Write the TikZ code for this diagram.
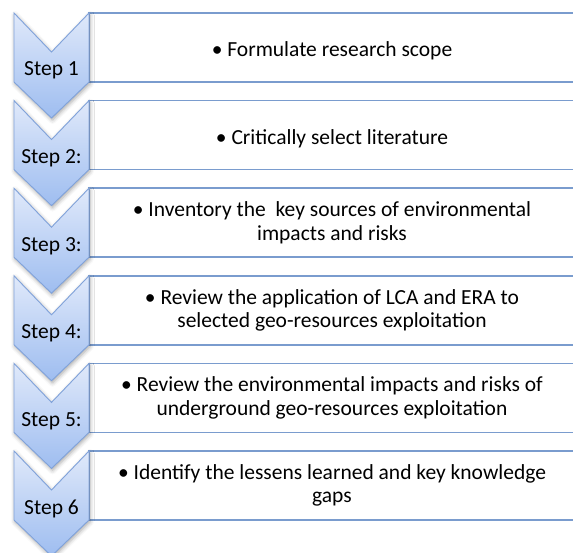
\documentclass[tikz,border=0pt]{standalone}
\usepackage{fontspec}
\setmainfont{Carlito}
\usetikzlibrary{positioning, calc, shadows.blur}

\definecolor{chevtop}{RGB}{224,233,250}
\definecolor{chevbot}{RGB}{158,189,240}
\definecolor{chevline}{RGB}{128,162,218}
\definecolor{boxline}{RGB}{122,156,206}

\tikzset{
  taskbox/.style={draw=boxline, line width=1.6pt, fill=white, minimum width=486pt, minimum height=69pt,
    outer sep=0pt, inner sep=0pt, align=center, font=\fontsize{21.5}{23.5}\selectfont,
    execute at begin node={\rule{0pt}{22pt}}},
  chevron/.style={draw=chevline, line width=0.9pt, top color=chevtop, bottom color=chevbot, line join=miter,
    blur shadow={shadow xshift=1pt, shadow yshift=-2pt, shadow blur radius=4pt, shadow opacity=35}},
  steplabel/.style={anchor=base, font=\fontsize{21.5}{23.5}\selectfont}
}

\begin{document}
\begin{tikzpicture}[x=1pt, y=1pt, node distance=18.6pt]
  \useasboundingbox (0,0) rectangle (573,-553);

  % task boxes
  \node[taskbox] (b1) at (332,-47.5) {• Formulate research scope};
  \node[taskbox, below=of b1] (b2) {• Critically select literature};
  \node[taskbox, below=of b2] (b3) {• Inventory the \ key sources of environmental\\ impacts and risks};
  \node[taskbox, below=of b3] (b4) {• Review the application of LCA and ERA to\\ selected geo-resources exploitation};
  \node[taskbox, below=of b4] (b5) {• Review the environmental impacts and risks of\\ underground geo-resources exploitation};
  \node[taskbox, below=of b5] (b6) {• Identify the lessens learned and key knowledge\\ gaps};

  % step chevrons
  \draw[chevron] ($(b1.north west)+(-75,0)$) -- ($(b1.north west)+(-37.5,-39)$) -- (b1.north west) -- (b1.south west) -- ($(b1.south west)+(-37.5,-36)$) -- ($(b1.south west)+(-75,0)$) -- cycle;
  \draw[chevron] ($(b2.north west)+(-75,0)$) -- ($(b2.north west)+(-37.5,-39)$) -- (b2.north west) -- (b2.south west) -- ($(b2.south west)+(-37.5,-36)$) -- ($(b2.south west)+(-75,0)$) -- cycle;
  \draw[chevron] ($(b3.north west)+(-75,0)$) -- ($(b3.north west)+(-37.5,-39)$) -- (b3.north west) -- (b3.south west) -- ($(b3.south west)+(-37.5,-36)$) -- ($(b3.south west)+(-75,0)$) -- cycle;
  \draw[chevron] ($(b4.north west)+(-75,0)$) -- ($(b4.north west)+(-37.5,-39)$) -- (b4.north west) -- (b4.south west) -- ($(b4.south west)+(-37.5,-36)$) -- ($(b4.south west)+(-75,0)$) -- cycle;
  \draw[chevron] ($(b5.north west)+(-75,0)$) -- ($(b5.north west)+(-37.5,-39)$) -- (b5.north west) -- (b5.south west) -- ($(b5.south west)+(-37.5,-36)$) -- ($(b5.south west)+(-75,0)$) -- cycle;
  \draw[chevron] ($(b6.north west)+(-75,0)$) -- ($(b6.north west)+(-37.5,-39)$) -- (b6.north west) -- (b6.south west) -- ($(b6.south west)+(-37.5,-36)$) -- ($(b6.south west)+(-75,0)$) -- cycle;

  % step labels
  \node[steplabel] (l1) at ($(b1.south west)+(-37.5,6)$) {Step 1};
  \node[steplabel] (l2) at ($(b2.south west)+(-37.5,6)$) {Step 2:};
  \node[steplabel] (l3) at ($(b3.south west)+(-37.5,6)$) {Step 3:};
  \node[steplabel] (l4) at ($(b4.south west)+(-37.5,6)$) {Step 4:};
  \node[steplabel] (l5) at ($(b5.south west)+(-37.5,6)$) {Step 5:};
  \node[steplabel] (l6) at ($(b6.south west)+(-37.5,6)$) {Step 6};
\end{tikzpicture}
\end{document}
